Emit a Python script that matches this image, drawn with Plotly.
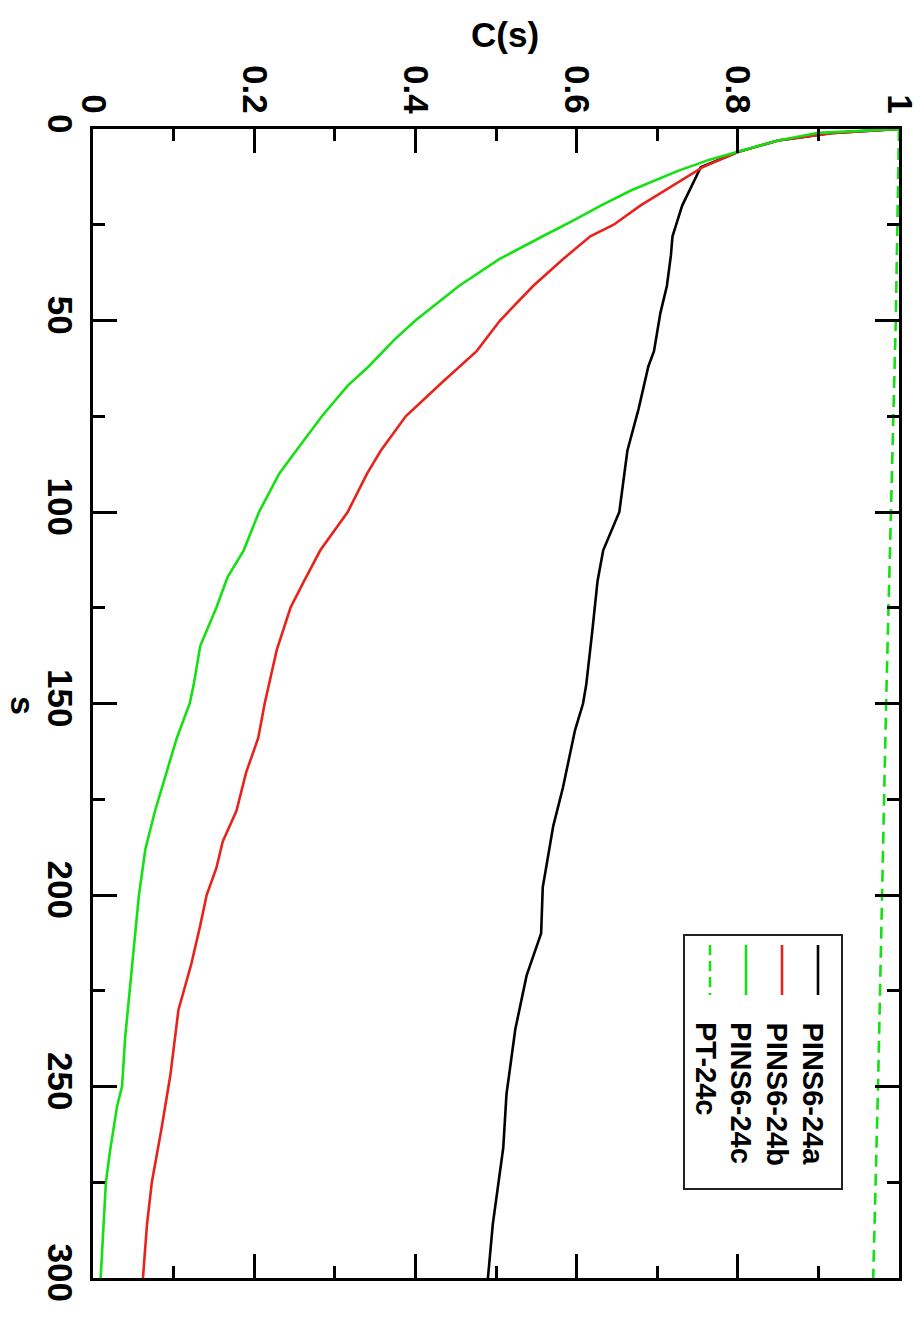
import plotly.graph_objects as go

# ---- data ----
s_a = [0, 1, 3, 6, 10, 15, 20, 24, 28, 33, 41, 48, 58, 62, 73, 84, 100, 110, 118, 132, 145, 150, 157, 172, 182, 198, 210, 221, 235, 252, 266, 286, 300]
c_a = [1.0, 0.92, 0.85, 0.80, 0.754, 0.742, 0.731, 0.725, 0.719, 0.717, 0.712, 0.704, 0.696, 0.689, 0.677, 0.663, 0.653, 0.633, 0.626, 0.619, 0.612, 0.608, 0.598, 0.583, 0.571, 0.558, 0.556, 0.538, 0.524, 0.513, 0.509, 0.496, 0.49]

s_b = [0, 1, 3, 6, 10, 15, 20, 25, 28, 34, 41, 50, 58, 66, 75, 84, 90, 100, 110, 118, 125, 136, 145, 150, 159, 168, 178, 186, 193, 200, 208, 218, 230, 247, 261, 275, 286, 300]
c_b = [1.0, 0.92, 0.85, 0.80, 0.756, 0.717, 0.679, 0.646, 0.617, 0.583, 0.546, 0.505, 0.476, 0.434, 0.388, 0.357, 0.34, 0.316, 0.282, 0.262, 0.245, 0.228, 0.218, 0.213, 0.205, 0.19, 0.178, 0.161, 0.153, 0.141, 0.133, 0.122, 0.106, 0.096, 0.085, 0.073, 0.067, 0.062]

s_c = [0, 1, 3, 6, 8, 11, 16, 20, 24, 28, 34, 41, 50, 55, 62, 67, 75, 84, 90, 100, 110, 117, 125, 135, 145, 150, 159, 178, 188, 200, 218, 237, 250, 255, 267, 275, 300]
c_c = [1.0, 0.9, 0.85, 0.80, 0.765, 0.725, 0.668, 0.630, 0.595, 0.558, 0.504, 0.454, 0.40, 0.374, 0.342, 0.316, 0.284, 0.252, 0.231, 0.206, 0.187, 0.167, 0.153, 0.133, 0.125, 0.12, 0.104, 0.077, 0.065, 0.057, 0.049, 0.040, 0.036, 0.030, 0.021, 0.016, 0.0095]

s_pt = [0, 50, 100, 150, 200, 250, 300]
c_pt = [1.0, 0.996, 0.99, 0.984, 0.979, 0.974, 0.968]

names = ["PINS6-24a", "PINS6-24b", "PINS6-24c", "PT-24c"]
colors = ["#000000", "#e8231b", "#14e014", "#14e014"]
dashes = ["solid", "solid", "solid", "12px,7px"]

FONT = "Liberation Sans"

fig = go.Figure()
series = [(c_a, s_a), (c_b, s_b), (c_c, s_c), (c_pt, s_pt)]
for (cx, sy), nm, col, dsh in zip(series, names, colors, dashes):
    fig.add_trace(go.Scatter(x=cx, y=sy, mode="lines", name=nm, showlegend=False,
                             line=dict(color=col, width=2.6, dash=dsh)))

axis_common = dict(showline=True, linewidth=3, linecolor="black", mirror="ticks",
                   ticks="inside", ticklen=24, tickwidth=3, tickcolor="black",
                   showgrid=False, zeroline=False, tickangle=90, automargin=False,
                   ticklabeloverflow="allow",
                   tickfont=dict(family=FONT, size=35, color="black", weight="bold"))

fig.update_xaxes(range=[0, 1], side="top", tick0=0, dtick=0.2,
                 minor=dict(ticks="inside", ticklen=12, tickwidth=3, tickcolor="black", tick0=0, dtick=0.1),
                 **axis_common)
fig.update_yaxes(range=[300, 0], tick0=0, dtick=50,
                 minor=dict(ticks="inside", ticklen=12, tickwidth=3, tickcolor="black", tick0=0, dtick=25),
                 **axis_common)

W, H = 915, 1326
L, T = 93, 129
pw, ph = 806, 1149
R = W - L - pw
B = H - T - ph

def px(xs):  # screen pixel -> paper
    return (xs - L) / pw

def py(ys):
    return 1 - (ys - T) / ph

annotations = [
    dict(text="<b>C(s)</b>", x=px(505), y=py(34), xref="paper", yref="paper",
         showarrow=False, font=dict(family=FONT, size=35, color="black"),
         xanchor="center", yanchor="middle"),
    dict(text="<b>s</b>", x=px(23), y=py(705), xref="paper", yref="paper", textangle=90,
         showarrow=False, font=dict(family=FONT, size=34, color="black"),
         xanchor="center", yanchor="middle"),
]

shapes = [dict(type="rect", xref="paper", yref="paper", x0=px(684), x1=px(842),
               y0=py(1189), y1=py(935), line=dict(color="#222222", width=2), fillcolor="white",
               layer="above")]

line_x = [818, 782, 746, 710]
text_x = [813, 777, 741, 706]
for nm, col, dsh, lx, tx in zip(names, colors, dashes, line_x, text_x):
    shapes.append(dict(type="line", xref="paper", yref="paper", x0=px(lx), x1=px(lx),
                       y0=py(945), y1=py(995), line=dict(color=col, width=2.6,
                       dash=("solid" if dsh == "solid" else "10px,6px")), layer="above"))
    annotations.append(dict(text="<b>%s</b>" % nm, x=px(tx), y=py(1020), xref="paper", yref="paper",
                            textangle=90, showarrow=False,
                            font=dict(family=FONT, size=29, color="black"),
                            xanchor="center", yanchor="top"))

fig.update_layout(width=W, height=H, margin=dict(l=L, r=R, t=T, b=B, pad=0),
                  plot_bgcolor="white", paper_bgcolor="white",
                  annotations=annotations, shapes=shapes, showlegend=False)

fig.write_html("out.html", config={"displayModeBar": False},
               post_script="document.body.style.margin='0';document.body.style.overflow='hidden';")
